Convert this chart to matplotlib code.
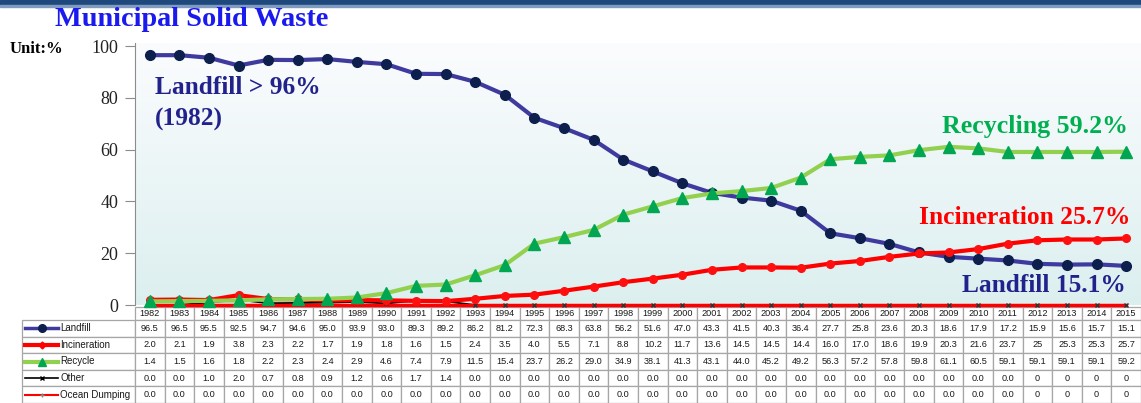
import numpy as np
import matplotlib
matplotlib.use("Agg")
import matplotlib.pyplot as plt
from matplotlib.lines import Line2D
from matplotlib.patches import Rectangle

# data (%), 1982-2015
years = list(range(1982, 2016))
landfill = [96.5, 96.5, 95.5, 92.5, 94.7, 94.6, 95.0, 93.9, 93.0, 89.3, 89.2, 86.2,
            81.2, 72.3, 68.3, 63.8, 56.2, 51.6, 47.0, 43.3, 41.5, 40.3, 36.4, 27.7,
            25.8, 23.6, 20.3, 18.6, 17.9, 17.2, 15.9, 15.6, 15.7, 15.1]
incineration = [2.0, 2.1, 1.9, 3.8, 2.3, 2.2, 1.7, 1.9, 1.8, 1.6, 1.5, 2.4,
                3.5, 4.0, 5.5, 7.1, 8.8, 10.2, 11.7, 13.6, 14.5, 14.5, 14.4, 16.0,
                17.0, 18.6, 19.9, 20.3, 21.6, 23.7, 25, 25.3, 25.3, 25.7]
recycle = [1.4, 1.5, 1.6, 1.8, 2.2, 2.3, 2.4, 2.9, 4.6, 7.4, 7.9, 11.5,
           15.4, 23.7, 26.2, 29.0, 34.9, 38.1, 41.3, 43.1, 44.0, 45.2, 49.2, 56.3,
           57.2, 57.8, 59.8, 61.1, 60.5, 59.1, 59.1, 59.1, 59.1, 59.2]
other = [0.0, 0.0, 1.0, 2.0, 0.7, 0.8, 0.9, 1.2, 0.6, 1.7, 1.4, 0.0,
         0.0, 0.0, 0.0, 0.0, 0.0, 0.0, 0.0, 0.0, 0.0, 0.0, 0.0, 0.0,
         0.0, 0.0, 0.0, 0.0, 0.0, 0.0, 0, 0, 0, 0]
ocean = [0.0] * 30 + [0, 0, 0, 0]
row_names = ["Landfill", "Incineration", "Recycle", "Other", "Ocean Dumping"]

W, H = 1141, 403


def px(x, y):
    # pixel position (from top-left) -> figure fraction
    return x / W, 1 - y / H


fig = plt.figure(figsize=(W / 100, H / 100), dpi=100)

# dark band at the very top
fig.patches.append(Rectangle((0, 1 - 5 / H), 1, 5 / H, transform=fig.transFigure,
                             color="#1f497d", zorder=0))
fig.patches.append(Rectangle((0, 1 - 6.5 / H), 1, 1.5 / H, transform=fig.transFigure,
                             color="#7f9cc0", zorder=0))

ax = fig.add_axes([135 / W, 98 / H, 1006 / W, 262 / H])
ax.set_xlim(1981.5, 2015.5)
ax.set_ylim(0, 101.2)

# light gradient background
grad = np.linspace(0, 1, 256).reshape(-1, 1)
cmap = matplotlib.colors.LinearSegmentedColormap.from_list("bg", ["#dcefef", "#fbfcfe"])
ax.imshow(grad, extent=[1981.5, 2015.5, 0, 101.2], origin="lower", aspect="auto",
          cmap=cmap, zorder=0)

ax.plot(years, landfill, color="#3f3a9e", lw=3, marker="o", ms=7,
        mfc="#0c1f4d", mec="#0c1f4d", zorder=3, clip_on=False)
ax.plot(years, other, color="black", lw=1.3, zorder=3, clip_on=False)
ax.plot(years, ocean, color="#ff0000", lw=2.5, zorder=4, clip_on=False)
ax.plot(years, other, ls="none", marker="x", ms=3.5, mew=1, color="#333333",
        zorder=4.5, clip_on=False)
ax.plot(years, incineration, color="#ff0000", lw=3, marker="o", ms=5.5,
        mfc="#ff1010", mec="#ff1010", zorder=5, clip_on=False)
ax.plot(years, recycle, color="#92d050", lw=3, marker="^", ms=8,
        mfc="#00a651", mec="#00a651", zorder=6, clip_on=False)

for s in ["top", "right", "bottom"]:
    ax.spines[s].set_visible(False)
ax.spines["left"].set_color("#8c8c8c")
ax.set_xticks([])
ax.set_yticks([0, 20, 40, 60, 80, 100])
ax.tick_params(axis="y", length=7, color="#8c8c8c", pad=5)
for lab in ax.get_yticklabels():
    lab.set_fontfamily("Liberation Serif")
    lab.set_fontsize(13)
    lab.set_color("#222222")


def fmt(v):
    return f"{v:.1f}" if isinstance(v, float) else str(v)


cell_text = [[fmt(v) for v in row] for row in (landfill, incineration, recycle, other, ocean)]
col_w = 1 / len(years)
# bbox covers the year grid only; the row-label column hangs off to the left
tbl = ax.table(cellText=cell_text, rowLabels=row_names, colLabels=[str(y) for y in years],
               colWidths=[col_w] * len(years), cellLoc="center", rowLoc="left",
               bbox=[0, -98 / 262, 1, 96 / 262])
tbl._autoColumns = []
tbl.auto_set_font_size(False)
for (r, c), cell in tbl.get_celld().items():
    cell.set_edgecolor("#a6a6a6")
    cell.set_linewidth(0.9)
    cell.set_facecolor("white")
    cell.get_text().set_fontfamily("Liberation Sans")
    cell.get_text().set_fontsize(6.6)
    cell.get_text().set_color("#1a1a1a")
    cell.set_height(13 if r == 0 else 16.6)
    if c == -1:
        cell.set_width(113 / 1006)
        cell.PAD = 38 / 113
        cell.get_text().set_fontsize(7)

# legend samples inside the row-label cells
samples = [
    dict(color="#3f3a9e", lw=2.5, marker="o", ms=5.5, mfc="#0c1f4d", mec="#0c1f4d"),
    dict(color="#ff0000", lw=3, marker="D", ms=3.5),
    dict(color="#92d050", lw=3, marker="^", ms=6, mfc="#00a651", mec="#00a651"),
    dict(color="black", lw=1.2, marker="x", ms=3.5),
    dict(color="#ff0000", lw=1.5, marker="+", ms=3, mec="#888888"),
]
for i, st in enumerate(samples):
    yc = 320 + 16.6 * (i + 0.5)
    x0, y0 = px(25, yc)
    x1, _ = px(58, yc)
    fig.add_artist(Line2D([x0, (x0 + x1) / 2, x1], [y0, y0, y0], markevery=[1],
                          transform=fig.transFigure, **st))

serif = "Liberation Serif"
fig.text(*px(55, 19), "Municipal Solid Waste", fontfamily=serif, fontweight="bold",
         fontsize=20.3, color="#1a1aef", va="center", ha="left")
fig.text(*px(10, 49), "Unit:%", fontfamily=serif, fontweight="bold",
         fontsize=12, color="black", va="center", ha="left")
fig.text(*px(155, 88), "Landfill > 96%", fontfamily=serif, fontweight="bold",
         fontsize=18.3, color="#22228c", va="center", ha="left")
fig.text(*px(155, 119), "(1982)", fontfamily=serif, fontweight="bold",
         fontsize=18.3, color="#22228c", va="center", ha="left")
fig.text(*px(1128, 127), "Recycling 59.2%", fontfamily=serif, fontweight="bold",
         fontsize=18.6, color="#00b050", va="center", ha="right")
fig.text(*px(1130, 218), "Incineration 25.7%", fontfamily=serif, fontweight="bold",
         fontsize=18.4, color="#ff0000", va="center", ha="right")
fig.text(*px(1126, 285), "Landfill 15.1%", fontfamily=serif, fontweight="bold",
         fontsize=18.3, color="#22228c", va="center", ha="right")

fig.savefig("out.png", dpi=100)
